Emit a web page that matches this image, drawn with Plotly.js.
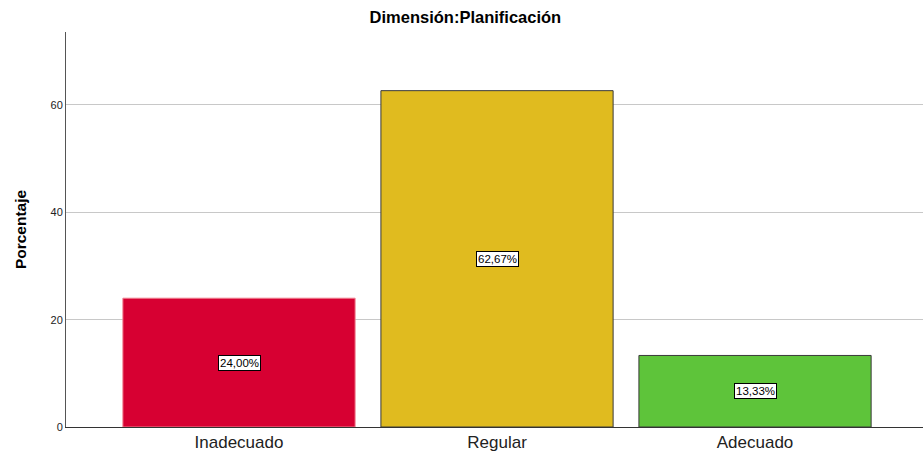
<!DOCTYPE html>
<html>
<head>
<meta charset="utf-8">
<script src="https://cdn.plot.ly/plotly-3.0.1.min.js"></script>
<style>html,body{margin:0;padding:0;background:#fff;}#chart{width:923px;height:452px;}</style>
</head>
<body>
<div id="chart"></div>
<script>
var categories = ["Inadecuado", "Regular", "Adecuado"];
var percentages = [24.00, 62.67, 13.33];
var labels = ["24,00%", "62,67%", "13,33%"];
var colors = ["#D70032", "#E0BB1F", "#5EC43A"];
var edgeColors = ["#F08090", "#3A3A3A", "#3A3A3A"];

var trace = {
  type: "bar",
  x: categories,
  y: percentages,
  width: 0.9,
  marker: {color: colors, line: {color: edgeColors, width: 1}},
  hoverinfo: "none"
};

var annotations = categories.map(function(c, i){
  return {
    x: c, y: percentages[i] / 2, xref: "x", yref: "y",
    text: labels[i], showarrow: false,
    font: {family: "Liberation Sans, Arial, sans-serif", size: 11.5, color: "#000"},
    bgcolor: "#fff", bordercolor: "#000", borderwidth: 1, borderpad: 1
  };
});

var layout = {
  width: 923, height: 452,
  margin: {l: 66, r: 0, t: 32, b: 25},
  paper_bgcolor: "#fff", plot_bgcolor: "#fff",
  showlegend: false,
  title: {text: "<b>Dimensión:Planificación</b>", x: 0.466, xref: "paper", y: 0.962, yanchor: "middle",
    font: {family: "Liberation Sans, Arial, sans-serif", size: 16.5, color: "#000"}},
  xaxis: {
    range: [-0.6705, 2.651],
    showline: true, linecolor: "#333", linewidth: 1,
    showgrid: false, ticks: "", zeroline: false,
    tickfont: {family: "Liberation Sans, Arial, sans-serif", size: 17, color: "#222"}
  },
  yaxis: {
    range: [0, 73.6],
    tickvals: [0, 20, 40, 60],
    showline: true, linecolor: "#555", linewidth: 1,
    showgrid: true, gridcolor: "#c8c8c8", gridwidth: 1,
    zeroline: false, ticks: "",
    tickfont: {family: "Liberation Sans, Arial, sans-serif", size: 11, color: "#222"},
    title: {text: "<b>Porcentaje</b>", standoff: 20,
      font: {family: "Liberation Sans, Arial, sans-serif", size: 15.5, color: "#000"}}
  },
  annotations: annotations
};

Plotly.newPlot("chart", [trace], layout, {displayModeBar: false, staticPlot: true});
</script>
</body>
</html>
